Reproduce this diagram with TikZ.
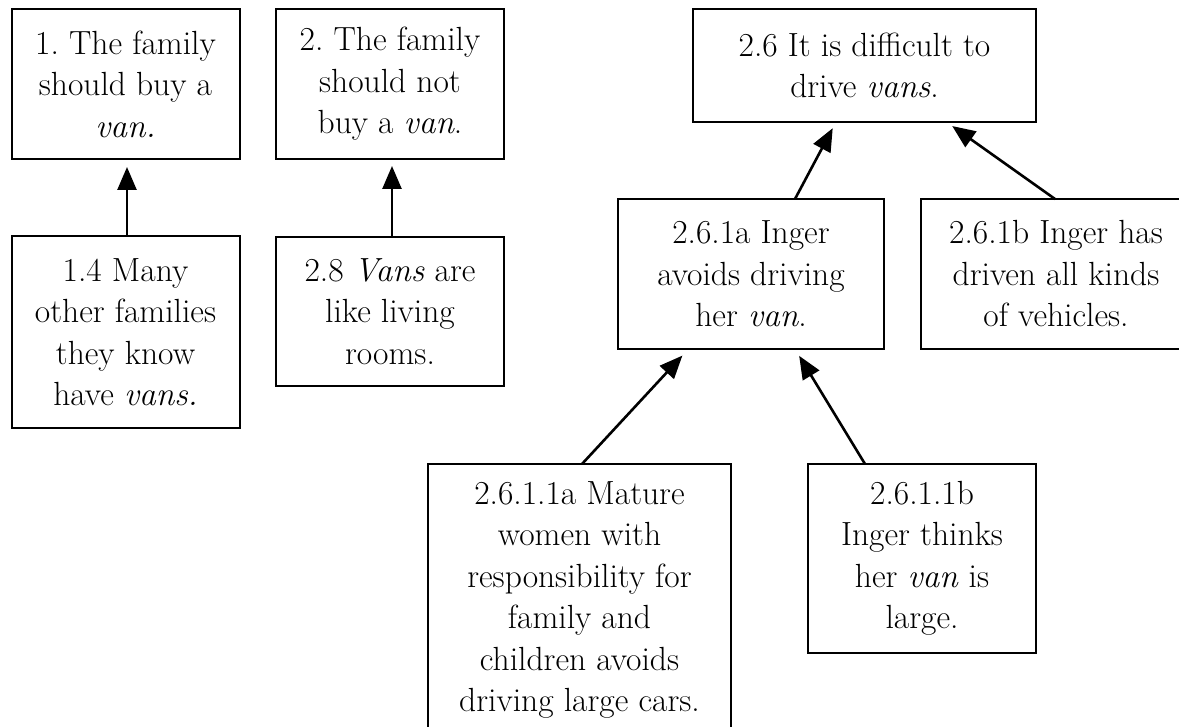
\documentclass[tikz,border=0pt]{standalone}
\usetikzlibrary{arrows.meta}
\frenchspacing
\begin{document}
\begin{tikzpicture}[
  x=1pt, y={(0pt,-1pt)},
  claim/.style={draw=black, line width=2pt, fill=white, align=center,
    inner sep=0pt, outer sep=0pt,
    font=\fontsize{33.5}{41.5}\selectfont},
  support/.style={line width=2.6pt,
    -{Triangle[width=19pt,length=23pt]}}
]
\useasboundingbox (0,0) rectangle (1179,727);
\clip (0,0) rectangle (1179,727);

% claims of the left-hand trees
\node[claim, minimum width=228pt, minimum height=150pt] (B1) at (125.5,84)
  {1. The family\\should buy a\\\textit{van.}};
\node[claim, minimum width=228pt, minimum height=192pt] (B14) at (125.5,332)
  {1.4 Many\\other families\\they know\\have \textit{vans.}};
\node[claim, minimum width=228pt, minimum height=150pt] (B2) at (390,84)
  {2. The family\\should not\\buy a \textit{van}.};
\node[claim, minimum width=228pt, minimum height=149pt] (B28) at (390,311.5)
  {2.8 \textit{Vans} are\\like living\\rooms.};

% the 2.6 sub-tree
\node[claim, minimum width=343pt, minimum height=113pt] (B26) at (864.5,65.5)
  {2.6 It is difficult to\\drive \textit{vans}.};
\node[claim, minimum width=266pt, minimum height=150pt] (B261a) at (751,274)
  {2.6.1a Inger\\avoids driving\\her \textit{van}.};
\node[claim, minimum width=270pt, minimum height=150pt] (B261b) at (1056,274)
  {2.6.1b Inger has\\driven all kinds\\of vehicles.};
\node[claim, minimum width=303pt, minimum height=272pt] (B2611a) at (579.5,600)
  {2.6.1.1a Mature\\women with\\responsibility for\\family and\\children avoids\\driving large cars.};
\node[claim, minimum width=228pt, minimum height=189pt] (B2611b) at (922,558.5)
  {2.6.1.1b\\Inger thinks\\her \textit{van} is\\large.};

% support arrows
\draw[support, shorten >=8pt] ([xshift=1.5pt]B14.north) -- ([xshift=1.5pt]B1.south);
\draw[support, shorten >=7pt] ([xshift=2pt]B28.north) -- ([xshift=2pt]B2.south);
\draw[support, shorten >=7pt] ([xshift=44pt]B261a.north) -- ([xshift=-28.5pt]B26.south);
\draw[support, shorten >=7pt] ([xshift=-1pt]B261b.north) -- ([xshift=82pt]B26.south);
\draw[support, shorten >=9pt] ([xshift=2.5pt]B2611a.north) -- ([xshift=-62.5pt]B261a.south);
\draw[support, shorten >=8pt] ([xshift=-57pt]B2611b.north) -- ([xshift=44pt]B261a.south);
\end{tikzpicture}
\end{document}
